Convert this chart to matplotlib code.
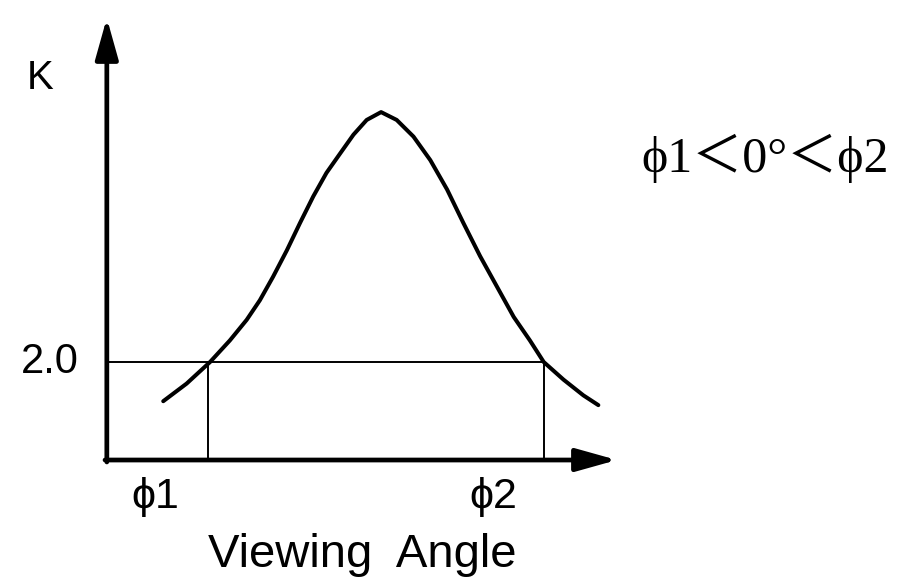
import matplotlib
matplotlib.use("Agg")
from matplotlib import pyplot as plt

# K versus viewing angle (deg)
angle = [-35.8, -31.9, -28.0, -24.7, -21.9, -19.7, -17.5, -15.2, -13.0, -10.8,
         -8.6, -6.3, -4.1, -1.9, 0.5, 3.1, 5.9, 8.7, 11.5, 14.2, 17.0, 19.8,
         22.6, 25.3, 27.6, 30.9, 34.2, 36.7]
k_vals = [1.60, 1.78, 2.0, 2.22, 2.43, 2.63, 2.87, 3.14, 3.42, 3.69,
          3.93, 4.13, 4.32, 4.47, 4.55, 4.47, 4.30, 4.06, 3.76, 3.42, 3.08, 2.77,
          2.46, 2.22, 2.0, 1.82, 1.66, 1.56]

phi1 = -28.3
phi2 = 27.6
k_level = 2.0
x_origin = -45.2
y_origin = 1.0
x_tip = 39.8
y_tip = 5.51

fig = plt.figure(figsize=(8.99, 5.78), dpi=100)
ax = fig.add_axes([0, 0, 1, 1])
ax.set_xlim(-63.0, 86.8)
ax.set_ylim(-0.204, 5.694)
ax.axis('off')

# axes with arrows
arrow = dict(arrowstyle='-|>,head_length=25,head_width=7', mutation_scale=1,
             lw=3.4, color='black', shrinkA=0, shrinkB=0)
ax.annotate('', xy=(x_origin, y_tip), xytext=(x_origin, y_origin - 0.02), arrowprops=arrow)
ax.annotate('', xy=(x_tip, y_origin), xytext=(x_origin - 0.3, y_origin), arrowprops=arrow)

# guide lines at K = 2.0
ax.plot([x_origin, phi2], [k_level, k_level], color='black', lw=1.4)
ax.plot([phi1, phi1], [y_origin, k_level], color='black', lw=1.4)
ax.plot([phi2, phi2], [y_origin, k_level], color='black', lw=1.4)

# the curve
ax.plot(angle, k_vals, color='black', lw=2.9, solid_capstyle='round', solid_joinstyle='round')

sans = ['Liberation Sans', 'DejaVu Sans']
ax.text(-56.3, 4.90, 'K', fontsize=29, family=sans, ha='center', va='center')
ax.text(-54.7, k_level, '2.0', fontsize=30, family=sans, ha='center', va='center')
ax.text(-37.2, 0.62, '\u03d51', fontsize=31, family=sans, ha='center', va='center')
ax.text(19.2, 0.62, '\u03d52', fontsize=31, family=sans, ha='center', va='center')
ax.text(-2.7, -0.09, 'Viewing  Angle', fontsize=34, family=sans, ha='center', va='baseline')
ax.text(64.5, 3.94, '\u03d51\uff1c0\u00b0\uff1c\u03d52', fontsize=36,
        family=['Liberation Serif', 'DejaVu Serif', 'Noto Sans CJK JP'], ha='center', va='baseline')

fig.savefig('out.png', dpi=100)
